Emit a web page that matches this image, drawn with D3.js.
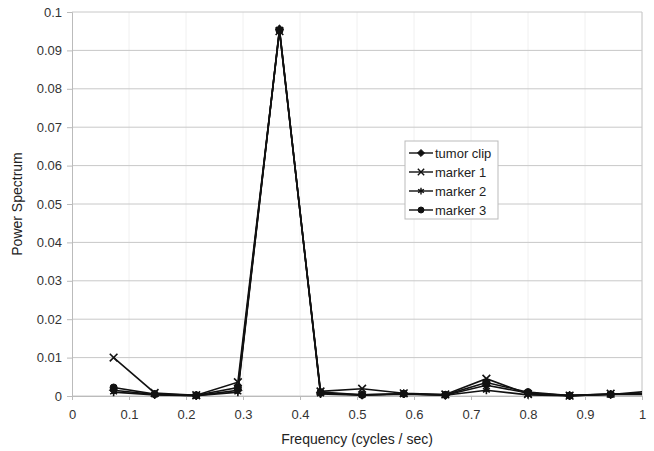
<!DOCTYPE html>
<html>
<head>
<meta charset="utf-8">
<script src="https://cdn.jsdelivr.net/npm/d3@7"></script>
<style>
  body { margin: 0; background: #fff; }
  text { font-family: "Liberation Sans", Arial, sans-serif; }
</style>
</head>
<body>
<div id="chart"></div>
<script>
// data
var freq = [0.073, 0.145, 0.218, 0.291, 0.364, 0.436, 0.509, 0.582, 0.655, 0.727, 0.800, 0.873, 0.945, 1.018];
var tumorClip = [0.0015, 0.0004, 0.0001, 0.0015, 0.0955, 0.0008, 0.0003, 0.0006, 0.0002, 0.0028, 0.0008, 0.0001, 0.0004, 0.0013];
var marker1   = [0.0100, 0.0008, 0.0002, 0.0036, 0.0950, 0.0012, 0.0019, 0.0007, 0.0004, 0.0045, 0.0005, 0.0001, 0.0006, 0.0006];
var marker2   = [0.0010, 0.0003, 0.0001, 0.0010, 0.0955, 0.0005, 0.0002, 0.0005, 0.0002, 0.0015, 0.0003, 0.0001, 0.0005, 0.0005];
var marker3   = [0.0022, 0.0005, 0.0002, 0.0022, 0.0952, 0.0010, 0.0003, 0.0006, 0.0003, 0.0035, 0.0010, 0.0001, 0.0004, 0.0004];
var seriesNames = ["tumor clip", "marker 1", "marker 2", "marker 3"];
var xTicks = [0, 0.1, 0.2, 0.3, 0.4, 0.5, 0.6, 0.7, 0.8, 0.9, 1];
var yTicks = [0, 0.01, 0.02, 0.03, 0.04, 0.05, 0.06, 0.07, 0.08, 0.09, 0.1];

var series = [
  {name: seriesNames[0], values: tumorClip, sym: d3.symbolDiamond2, fill: true, size: 45},
  {name: seriesNames[1], values: marker1, sym: d3.symbolX, fill: false, size: 40},
  {name: seriesNames[2], values: marker2, sym: d3.symbolAsterisk, fill: false, size: 45},
  {name: seriesNames[3], values: marker3, sym: d3.symbolCircle, fill: true, size: 40}
];

var W = 654, H = 451;
var margin = {top: 12, right: 12, bottom: 55, left: 72};
var w = W - margin.left - margin.right;
var h = H - margin.top - margin.bottom;

var svg = d3.select("#chart").append("svg")
    .attr("width", W).attr("height", H);
var g = svg.append("g")
    .attr("transform", "translate(" + margin.left + "," + margin.top + ")");

var x = d3.scaleLinear().domain([0, 1]).range([0, w]);
var y = d3.scaleLinear().domain([0, 0.1]).range([h, 0]);

// faint vertical grid
g.append("g").selectAll("line")
  .data(xTicks.slice(1))
  .enter().append("line")
  .attr("x1", function(d) { return x(d); }).attr("x2", function(d) { return x(d); })
  .attr("y1", 0).attr("y2", h)
  .attr("stroke", "#f0f0f0").attr("stroke-width", 1);

// horizontal grid
g.append("g").selectAll("line")
  .data(yTicks)
  .enter().append("line")
  .attr("x1", 0).attr("x2", w)
  .attr("y1", function(d) { return y(d); }).attr("y2", function(d) { return y(d); })
  .attr("stroke", "#c8c8c8").attr("stroke-width", 1);

// right border
g.append("line")
  .attr("x1", w).attr("x2", w).attr("y1", 0).attr("y2", h)
  .attr("stroke", "#c8c8c8");

var yAxis = g.append("g")
  .call(d3.axisLeft(y).tickValues(yTicks).tickSize(5).tickPadding(5)
        .tickFormat(function(d) { return d3.format("")(+d.toFixed(2)); }));
var xAxis = g.append("g")
  .attr("transform", "translate(0," + h + ")")
  .call(d3.axisBottom(x).tickValues(xTicks).tickSize(4).tickPadding(10)
        .tickFormat(function(d) { return d3.format("")(+d.toFixed(1)); }));
[yAxis, xAxis].forEach(function(a) {
  a.select(".domain").attr("stroke", "#bbb");
  a.selectAll(".tick line").attr("stroke", "#bbb");
  a.selectAll("text").attr("fill", "#333").attr("font-size", 13)
    .attr("font-family", "Liberation Sans, Arial, sans-serif");
});

// clip for data
g.append("clipPath").attr("id", "clip")
  .append("rect").attr("x", -4).attr("y", -4).attr("width", w + 4).attr("height", h + 8);

var plot = g.append("g").attr("clip-path", "url(#clip)");
var line = d3.line()
  .x(function(d, i) { return x(freq[i]); })
  .y(function(d) { return y(d); });

series.forEach(function(s) {
  plot.append("path")
    .attr("d", line(s.values))
    .attr("fill", "none").attr("stroke", "#111").attr("stroke-width", 1.6);
});
series.forEach(function(s) {
  var sym = d3.symbol().type(s.sym).size(s.size);
  plot.append("g").selectAll("path")
    .data(s.values.filter(function(d, i) { return freq[i] <= 1; }))
    .enter().append("path")
    .attr("d", sym)
    .attr("transform", function(d, i) { return "translate(" + x(freq[i]) + "," + y(d) + ")"; })
    .attr("fill", s.fill ? "#111" : "none")
    .attr("stroke", "#111").attr("stroke-width", s.fill ? 1 : 1.6);
});

// legend
var lg = svg.append("g").attr("transform", "translate(405,141)");
lg.append("rect").attr("width", 93).attr("height", 78)
  .attr("fill", "#fff").attr("stroke", "#bbb");
series.forEach(function(s, i) {
  var row = lg.append("g").attr("transform", "translate(0," + (12 + i * 19) + ")");
  row.append("line").attr("x1", 4).attr("x2", 28).attr("y1", 0).attr("y2", 0)
    .attr("stroke", "#111").attr("stroke-width", 1.4);
  row.append("path").attr("d", d3.symbol().type(s.sym).size(s.size * 0.7)())
    .attr("transform", "translate(16,0)")
    .attr("fill", s.fill ? "#111" : "none")
    .attr("stroke", "#111").attr("stroke-width", s.fill ? 1 : 1.4);
  row.append("text").attr("x", 30).attr("y", 0).attr("dy", "0.35em")
    .attr("font-size", 13).attr("fill", "#222").text(s.name);
});

// axis titles
svg.append("text")
  .attr("x", margin.left + w / 2).attr("y", 444)
  .attr("text-anchor", "middle").attr("font-size", 14).attr("fill", "#222")
  .text("Frequency (cycles / sec)");
svg.append("text")
  .attr("transform", "translate(22," + (margin.top + h / 2) + ") rotate(-90)")
  .attr("text-anchor", "middle").attr("font-size", 14).attr("fill", "#222")
  .text("Power Spectrum");
</script>
</body>
</html>
